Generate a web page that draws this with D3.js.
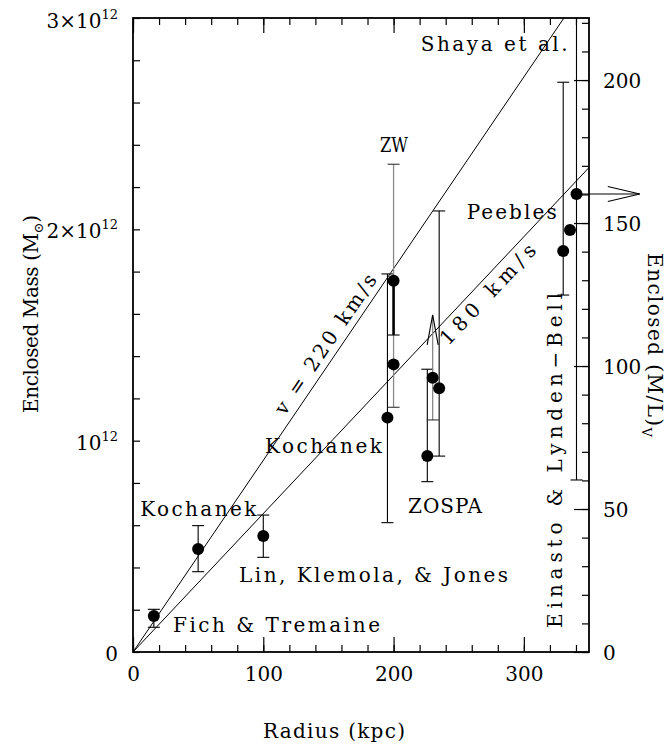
<!DOCTYPE html>
<html>
<head>
<meta charset="utf-8">
<script src="https://cdn.jsdelivr.net/npm/d3@7"></script>
<style>
  body { margin: 0; background: #fff; }
  text { font-family: "DejaVu Serif", serif; fill: #000; }
</style>
</head>
<body>
<svg id="chart" width="669" height="744"></svg>
<script>
// measurements: radius (kpc) and enclosed mass (units of 1e12 Msun)
const radius = [16, 50, 100, 195.3, 200, 200, 225.9, 230, 235, 330.2, 335.4, 340.4];
const mass   = [0.170, 0.487, 0.549, 1.109, 1.361, 1.757, 0.927, 1.298, 1.248, 1.898, 1.997, 2.167];
const massLo = [0.117, 0.380, 0.448, 0.612, 1.158, 1.500, 0.806, 1.098, 0.927, 1.689, null, 0.814];
const massHi = [0.202, 0.598, 0.648, 1.789, 2.308, null, 1.338, null, 2.087, 2.696, null, 3.3];
const barKind = ["k", "k", "k", "k", "gray", "thick", "k", "gray", "k", "k", "k", "k"];

// limits drawn as arrows
const upArrow = { r: 230, from: 1.298, to: 1.595 };
const rightArrow = { r: 340.4, m: 2.167, toR: 389 };

// circular-velocity lines: mass at 100 kpc
const speedLabels = ["v = 220 km/s", "180 km/s"];
const massAt100 = [0.907, 0.655];

// ticks
const xMajor = [0, 100, 200, 300];
const xMinor = d3.range(0, 351, 20);
const yMinor = d3.range(0, 3.01, 0.2);
const yTicks = [0, 1, 2, 3];
const yTickBase = ["0", "10", "2×10", "3×10"];
const yTickExp = ["", "12", "12", "12"];
const mlMajor = [0, 50, 100, 150, 200];
const mlMinor = d3.range(0, 221, 10);

// text labels (position in data units, width in px)
const labels = [
  { text: "Shaya et al.", r: 220.8, m: 2.844, w: 147 },
  { text: "ZW", r: 189.5, m: 2.367, w: 28, squeeze: true },
  { text: "Peebles", r: 256.1, m: 2.049, w: 90 },
  { text: "Kochanek", r: 101.3, m: 0.942, w: 117 },
  { text: "ZOSPA", r: 211.1, m: 0.658, w: 74 },
  { text: "Kochanek", r: 5.6, m: 0.644, w: 116 },
  { text: "Lin, Klemola, & Jones", r: 81.4, m: 0.329, w: 269 },
  { text: "Fich & Tremaine", r: 30.7, m: 0.096, w: 207 }
];

const svg = d3.select("#chart");
const x = d3.scaleLinear().domain([0, 350]).range([133, 589]);
const y = d3.scaleLinear().domain([0, 3]).range([652, 18]);
const ml = d3.scaleLinear().domain([0, 221.7]).range([652, 18]);

svg.append("clipPath").attr("id", "plot")
  .append("rect").attr("x", 133).attr("y", 18).attr("width", 456).attr("height", 634);

// ticks
function ticks(axis, tr) {
  const g = svg.append("g").attr("transform", tr).call(axis);
  g.select(".domain").remove();
  g.selectAll("line").attr("stroke", "#000").attr("stroke-width", 1.2);
  return g;
}
ticks(d3.axisBottom(x).tickValues(xMinor).tickSize(-7).tickFormat(""), "translate(0,652)");
const gx = ticks(d3.axisBottom(x).tickValues(xMajor).tickSize(-15).tickPadding(15), "translate(0,652)");
gx.selectAll("text").attr("font-size", 20).attr("font-family", "DejaVu Serif").attr("fill", "#000");
ticks(d3.axisTop(x).tickValues(xMinor).tickSize(-7).tickFormat(""), "translate(0,18)");
ticks(d3.axisTop(x).tickValues(xMajor).tickSize(-15).tickFormat(""), "translate(0,18)");
ticks(d3.axisLeft(y).tickValues(yMinor).tickSize(-7).tickFormat(""), "translate(133,0)");
ticks(d3.axisRight(ml).tickValues(mlMinor).tickSize(-7).tickFormat(""), "translate(589,0)");
const gr = ticks(d3.axisRight(ml).tickValues(mlMajor).tickSize(-15).tickPadding(14), "translate(589,0)");
gr.selectAll("text").attr("font-size", 20).attr("font-family", "DejaVu Serif").attr("fill", "#000")
  .attr("dy", "0.37em");

// left tick labels with exponents
const yl = svg.append("g").selectAll("text").data(yTicks).join("text")
  .attr("x", 118)
  .attr("y", d => Math.max(y(d) + 9, 28))
  .attr("text-anchor", "end")
  .attr("font-size", 20);
yl.append("tspan").text((d, i) => yTickBase[i]);
yl.append("tspan").attr("dy", -9).attr("font-size", 13).text((d, i) => yTickExp[i]);

// frame
svg.append("rect").attr("x", 133).attr("y", 18).attr("width", 456).attr("height", 634)
  .attr("fill", "none").attr("stroke", "#000").attr("stroke-width", 1.8);

const plot = svg.append("g").attr("clip-path", "url(#plot)");

// velocity lines
plot.selectAll("line.v").data(massAt100).join("line")
  .attr("x1", x(0)).attr("y1", y(0))
  .attr("x2", x(350)).attr("y2", d => y(d / 100 * 350))
  .attr("stroke", "#000").attr("stroke-width", 1);

// error bars
const bars = plot.selectAll("g.bar").data(radius).join("g");
function barColor(i) { return barKind[i] === "gray" ? "#8a8a8a" : "#000"; }
function barWidth(i) { return barKind[i] === "thick" ? 2.6 : barKind[i] === "gray" ? 1.3 : 1.1; }
bars.each(function (r, i) {
  const g = d3.select(this);
  const lo = massLo[i] == null ? mass[i] : massLo[i];
  const hi = massHi[i] == null ? mass[i] : massHi[i];
  if (lo === hi) return;
  g.append("line").attr("x1", x(r)).attr("x2", x(r)).attr("y1", y(lo)).attr("y2", y(hi))
    .attr("stroke", barColor(i)).attr("stroke-width", barWidth(i));
  [massLo[i], massHi[i]].filter(v => v != null).forEach(v => {
    g.append("line").attr("x1", x(r) - 6).attr("x2", x(r) + 6).attr("y1", y(v)).attr("y2", y(v))
      .attr("stroke", barColor(i) === "#000" ? "#000" : "#333").attr("stroke-width", 1.1);
  });
});

// upward limit arrow
plot.append("line")
  .attr("x1", x(upArrow.r)).attr("x2", x(upArrow.r))
  .attr("y1", y(upArrow.from)).attr("y2", y(upArrow.to))
  .attr("stroke", "#8a8a8a").attr("stroke-width", 1.3);
plot.append("polyline")
  .attr("points", [[x(upArrow.r) - 5.5, y(upArrow.to) + 30], [x(upArrow.r), y(upArrow.to)], [x(upArrow.r) + 5.5, y(upArrow.to) + 30]].join(" "))
  .attr("fill", "none").attr("stroke", "#000").attr("stroke-width", 1.1);

// points
svg.append("g").selectAll("circle").data(radius).join("circle")
  .attr("cx", d => x(d)).attr("cy", (d, i) => y(mass[i])).attr("r", 6).attr("fill", "#000");

// rightward arrow (outside plot)
const ay = y(rightArrow.m), ax = x(rightArrow.toR);
svg.append("line").attr("x1", x(rightArrow.r)).attr("x2", ax).attr("y1", ay).attr("y2", ay)
  .attr("stroke", "#000").attr("stroke-width", 1.1);
svg.append("polyline")
  .attr("points", [[ax - 32, ay - 7.5], [ax, ay], [ax - 32, ay + 7.5]].join(" "))
  .attr("fill", "none").attr("stroke", "#000").attr("stroke-width", 1.1);

// labels
svg.append("g").selectAll("text").data(labels).join("text")
  .attr("x", d => x(d.r)).attr("y", d => y(d.m))
  .attr("font-size", 20)
  .attr("textLength", d => d.w)
  .attr("lengthAdjust", d => d.squeeze ? "spacingAndGlyphs" : "spacing")
  .text(d => d.text);

// Einasto & Lynden-Bell, vertical
svg.append("text")
  .attr("transform", `translate(${x(329.3)},${y(0.114)}) rotate(-90)`)
  .attr("font-size", 20).attr("textLength", 335).attr("lengthAdjust", "spacing")
  .text("Einasto & Lynden\u2212Bell");

// velocity labels along lines
const lineLab = [
  { r: 156.6, off: 7, w: 165 },
  { r: 265, off: -20, w: 130 }
];
lineLab.forEach((L, i) => {
  const k = massAt100[i] / 100;
  const th = Math.atan((y(0) - y(k * 100)) / (x(100) - x(0)));
  const px = x(L.r) - Math.sin(th) * L.off;
  const py = y(k * L.r) - Math.cos(th) * L.off;
  svg.append("text")
    .attr("transform", `translate(${px},${py}) rotate(${-th * 180 / Math.PI})`)
    .attr("text-anchor", "middle").attr("font-size", 20)
    .attr("textLength", L.w).attr("lengthAdjust", "spacing")
    .text(speedLabels[i]);
});

// axis titles
svg.append("text").attr("x", 334).attr("y", 738).attr("text-anchor", "middle")
  .attr("font-size", 20).attr("textLength", 142).attr("lengthAdjust", "spacing")
  .text("Radius (kpc)");

const lt = svg.append("text").attr("transform", "translate(38,314) rotate(-90)")
  .attr("text-anchor", "middle").attr("font-size", 20)
  .attr("textLength", 198).attr("lengthAdjust", "spacing");
lt.append("tspan").text("Enclosed Mass (M");
lt.append("tspan").attr("dy", 5).attr("font-size", 13).text("\u2299");
lt.append("tspan").attr("dy", -5).text(")");

const rt = svg.append("text").attr("transform", "translate(648,345) rotate(90)")
  .attr("text-anchor", "middle").attr("font-size", 20)
  .attr("textLength", 184).attr("lengthAdjust", "spacing");
rt.append("tspan").text("Enclosed (M/L)");
rt.append("tspan").attr("dy", 6).attr("font-size", 13).text("V");
</script>
</body>
</html>
